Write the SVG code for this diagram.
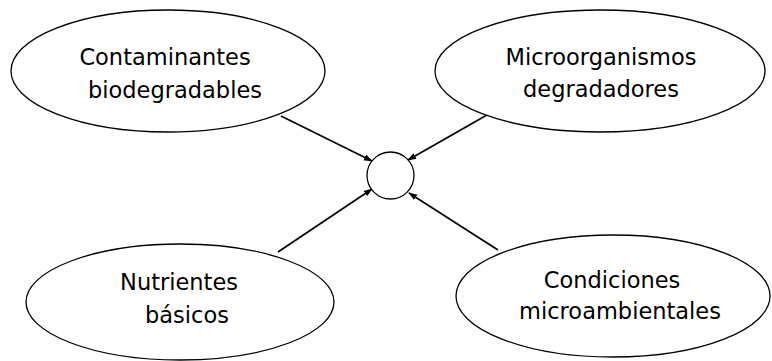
<svg xmlns="http://www.w3.org/2000/svg" width="772" height="361" viewBox="0 0 772 361">
<style>
.n{fill:#fff;stroke:#000;stroke-width:1.3}
.t{font-family:"DejaVu Sans",Verdana,sans-serif;font-size:22.5px;fill:#000;text-anchor:middle}
.c{stroke:#000;stroke-width:1.7;fill:none;marker-end:url(#ah)}
</style>
<defs>
<marker id="ah" viewBox="0 0 10 10" refX="9" refY="5" markerWidth="9" markerHeight="9" orient="auto" markerUnits="userSpaceOnUse">
<path d="M0,1.5 L10,5 L0,8.5 z" fill="#000"/>
</marker>
</defs>
<rect width="772" height="361" fill="#fff"/>
<g id="connectors">
<line class="c" x1="281" y1="116" x2="372" y2="161"/>
<line class="c" x1="487" y1="115" x2="408" y2="160"/>
<line class="c" x1="278" y1="252" x2="372" y2="189"/>
<line class="c" x1="498" y1="250" x2="409" y2="193"/>
</g>
<g id="center">
<circle class="n" cx="390.5" cy="175.5" r="23.5"/>
</g>
<g id="contaminantes">
<ellipse class="n" cx="168" cy="71" rx="157" ry="61"/>
<text class="t" x="165" y="65">Contaminantes</text>
<text class="t" x="175" y="98">biodegradables</text>
</g>
<g id="microorganismos">
<ellipse class="n" cx="600" cy="71" rx="165" ry="61"/>
<text class="t" x="601" y="65">Microorganismos</text>
<text class="t" x="601" y="97">degradadores</text>
</g>
<g id="nutrientes">
<ellipse class="n" cx="180" cy="302" rx="154" ry="58"/>
<text class="t" x="179" y="290">Nutrientes</text>
<text class="t" x="187" y="323">básicos</text>
</g>
<g id="condiciones">
<ellipse class="n" cx="613" cy="296" rx="157" ry="61"/>
<text class="t" x="612" y="288">Condiciones</text>
<text class="t" x="620" y="319">microambientales</text>
</g>
</svg>
